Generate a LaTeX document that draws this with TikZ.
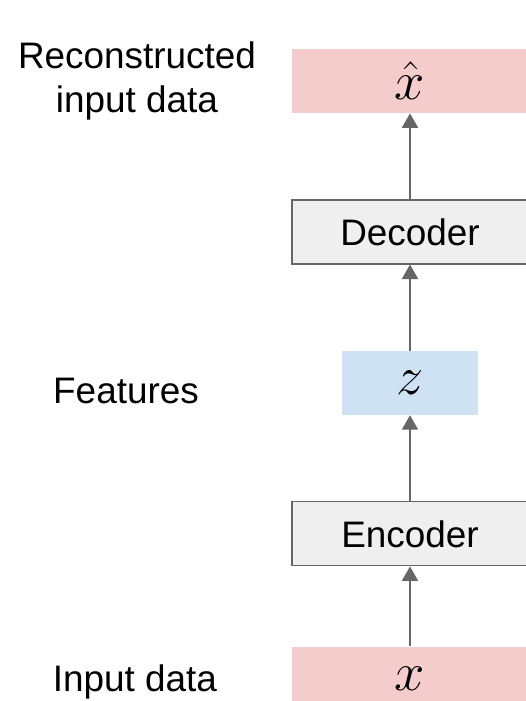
\documentclass[tikz,border=0pt]{standalone}
\usepackage{fix-cm}
\usepackage{fontspec}
\setmainfont{Liberation Sans}
\usetikzlibrary{positioning,arrows.meta}
\definecolor{datared}{HTML}{F4CCCC}
\definecolor{featblue}{HTML}{CFE2F3}
\definecolor{netgray}{HTML}{EFEFEF}
\definecolor{edgegray}{HTML}{666666}
\tikzstyle{data}=[rectangle, fill=datared, minimum width=4.72cm, minimum height=1.28cm,
        inner sep=0pt, font=\fontsize{31}{35}\selectfont]
\tikzstyle{feature}=[data, fill=featblue, minimum width=2.72cm]
\tikzstyle{network}=[rectangle, draw=edgegray, line width=0.7pt, fill=netgray,
        minimum width=4.72cm, minimum height=1.28cm, inner sep=0pt,
        font=\fontsize{21}{25}\selectfont]
\tikzstyle{caption}=[align=center, font=\fontsize{21}{25}\selectfont]
\tikzstyle{flow}=[draw=edgegray, line width=1.1pt, -{Triangle[width=0.32cm,length=0.29cm]}]

\begin{document}
\begin{tikzpicture}[x=0.02cm, y=-0.02cm, node distance=1.72cm]
        \useasboundingbox (0,0) rectangle (525,701);
        \node (xhat) [data] at (410,81) {$\hat{x}$};
        \node (decoder) [network, below=of xhat] {Decoder};
        \node (z) [feature, below=of decoder] {$z$};
        \node (encoder) [network, below=of z] {Encoder};
        \node (xin) [data, below=1.6cm of encoder] {$x$};
        % captions on the left
        \node (lblrec) [caption] at (xhat -| 137,0) {Reconstructed\\input data};
        \node (lblfeat) [caption, yshift=-0.16cm] at (z -| 126,0) {Features};
        \node (lblin) [caption, yshift=-0.06cm] at (xin -| 135,0) {Input data};
        % arrows
        \draw [flow] (xin) -- (encoder);
        \draw [flow] (encoder) -- (z);
        \draw [flow] (z) -- (decoder);
        \draw [flow] (decoder) -- (xhat);
\end{tikzpicture}
\end{document}
